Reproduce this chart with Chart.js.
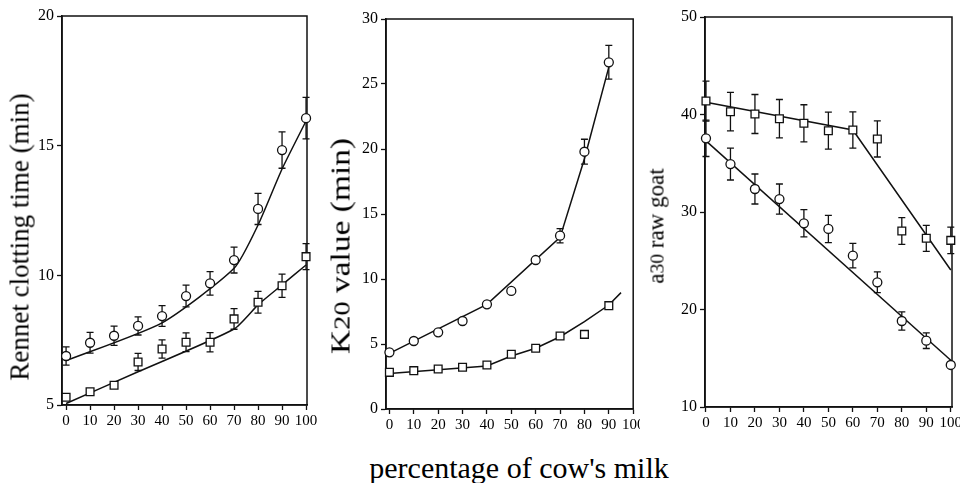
<!DOCTYPE html>
<html><head><meta charset="utf-8">
<script src="https://cdn.jsdelivr.net/npm/chart.js@4/dist/chart.umd.min.js"></script>
<style>
html,body{margin:0;padding:0;background:#fff;}
body{width:960px;height:483px;overflow:hidden;position:relative;font-family:"Liberation Serif","Times New Roman",serif;color:#000}
canvas{position:absolute;top:0}
.yt{position:absolute;white-space:nowrap;line-height:1}
.yt span{font-size:0.85em}
#xtitle{position:absolute;left:519px;top:453px;transform:translateX(-50%);white-space:nowrap;font-size:30px;line-height:30px}
</style></head>
<body>
<canvas id="c1" width="320" height="440" style="left:0px"></canvas>
<canvas id="c2" width="320" height="440" style="left:320px"></canvas>
<canvas id="c3" width="320" height="440" style="left:640px"></canvas>
<div class="yt" style="left:20px;top:237px;font-size:27px;transform:translate(-50%,-50%) rotate(-90deg)">Rennet clotting time (min)</div>
<div class="yt" style="left:341px;top:246px;font-size:27px;transform:translate(-50%,-50%) rotate(-90deg) scaleX(1.24)">K<span>20</span> value (min)</div>
<div class="yt" style="left:656px;top:226px;font-size:23px;transform:translate(-50%,-50%) rotate(-90deg)">a<span>30</span> raw goat</div>
<div id="xtitle">percentage of cow's milk</div>
<script>
// ---- data ----
const pctCow = [0,10,20,30,40,50,60,70,80,90,100];
const pctCowK20 = [0,10,20,30,40,50,60,70,80,90];

// Panel 1: rennet clotting time (min)
const rctCircle    = [6.89,7.40,7.67,8.05,8.43,9.20,9.69,10.59,12.56,14.83,16.06];
const rctCircleErr = [0.35,0.40,0.37,0.35,0.40,0.42,0.45,0.50,0.60,0.70,0.80];
const rctSquare    = [5.30,5.51,5.76,6.66,7.16,7.42,7.42,8.32,8.96,9.60,10.72];
const rctSquareErr = [0,0,0,0.33,0.35,0.36,0.37,0.40,0.42,0.45,0.50];
const rctCircleFitX = [0,40,70,80,90,100];
const rctCircleFitY = [6.71,8.17,10.27,11.94,14.10,15.95];
const rctSquareFitX = [0,30,70,80,90,100];
const rctSquareFitY = [5.06,6.28,7.93,8.86,9.63,10.40];

// Panel 2: K20 value (min)
const k20Circle    = [4.36,5.23,5.90,6.77,8.05,9.08,11.46,13.33,19.79,26.67];
const k20CircleErr = [0,0,0,0,0,0,0,0.55,0.96,1.30];
const k20Square    = [2.82,2.95,3.08,3.21,3.38,4.21,4.67,5.62,5.74,7.95];
const k20SquareErr = [0,0,0,0,0,0,0,0,0,0];
const k20CircleFitX = [0,40,70,80,90];
const k20CircleFitY = [4.28,8.05,13.2,19.25,26.3];
const k20SquareFitX = [0,40,50,60,70,80,90,95];
const k20SquareFitY = [2.74,3.31,4.08,4.67,5.56,6.72,8.0,8.95];

// Panel 3: a30 raw goat
const a30Circle    = [37.56,34.92,32.36,31.33,28.84,28.26,25.52,22.79,18.82,16.80,14.31];
const a30CircleErr = [1.87,1.64,1.54,1.54,1.40,1.40,1.26,1.06,0.94,0.80,0];
const a30Square    = [41.38,40.29,40.05,39.57,39.10,38.34,38.41,37.49,28.05,27.30,27.09];
const a30SquareErr = [2.05,1.97,2.00,1.97,1.90,1.90,1.85,1.85,1.37,1.33,1.35];
const a30CircleFitX = [0,100];
const a30CircleFitY = [37.3,14.8];
const a30SquareFitX = [0,60,100];
const a30SquareFitY = [41.25,38.41,24.05];

// y-axis tick ranges
const yTicks1 = {min:5, max:20, step:5};
const yTicks2 = {min:0, max:30, step:5};
const yTicks3 = {min:10, max:50, step:10};

// ---- rendering ----
const SERIF = '"Liberation Serif","Times New Roman",serif';
Chart.defaults.font.family = SERIF;
Chart.defaults.color = '#000';
const INK = '#111';

const frameAndErrors = {
  id: 'frameAndErrors',
  beforeDatasetsDraw(chart) {
    const {ctx, chartArea: a, scales: {x, y}} = chart;
    ctx.save();
    ctx.strokeStyle = INK;
    ctx.lineWidth = 1.5;
    ctx.strokeRect(a.left, a.top, a.right - a.left, a.bottom - a.top);
    ctx.lineWidth = 1.3;
    chart.data.datasets.forEach(ds => {
      if (!ds.errors) return;
      ds.data.forEach((p, i) => {
        const e = ds.errors[i];
        if (!e) return;
        const px = x.getPixelForValue(p.x);
        const yt = y.getPixelForValue(p.y + e);
        const yb = y.getPixelForValue(p.y - e);
        ctx.beginPath();
        ctx.moveTo(px, yt); ctx.lineTo(px, yb);
        ctx.moveTo(px - 3.5, yt); ctx.lineTo(px + 3.5, yt);
        ctx.moveTo(px - 3.5, yb); ctx.lineTo(px + 3.5, yb);
        ctx.stroke();
      });
    });
    ctx.restore();
  }
};

function pts(xs, ys) { return xs.map((v, i) => ({x: v, y: ys[i]})); }

function makeChart(id, cfg) {
  const markers = (ys, errs, style, r) => ({
    type: 'scatter', data: pts(cfg.x, ys), errors: errs,
    pointStyle: style, pointRadius: r, pointHoverRadius: r,
    pointBackgroundColor: '#fff', pointBorderColor: INK, pointBorderWidth: 1.3,
    showLine: false, clip: false, order: 1
  });
  const fit = (xs, ys, tension) => ({
    type: 'line', data: pts(xs, ys), borderColor: INK, borderWidth: 1.5,
    pointRadius: 0, tension: tension, fill: false, clip: false, order: 2
  });
  new Chart(document.getElementById(id), {
    data: {
      datasets: [
        fit(cfg.cFitX, cfg.cFitY, cfg.tension),
        fit(cfg.sFitX, cfg.sFitY, cfg.tension),
        markers(cfg.circle, cfg.circleErr, 'circle', 4.5),
        markers(cfg.square, cfg.squareErr, 'rect', 5.5)
      ]
    },
    options: {
      responsive: false, animation: false, devicePixelRatio: 1,
      layout: {padding: {left: 0, top: cfg.top, right: cfg.right, bottom: 0}},
      plugins: {legend: {display: false}, tooltip: {enabled: false}},
      scales: {
        x: {
          type: 'linear', min: cfg.xmin, max: cfg.xmax,
          afterFit(s) { s.height = 440 - cfg.bottom; s.paddingLeft = 0; s.paddingRight = 0; },
          ticks: {stepSize: 10, autoSkip: false, includeBounds: false, maxRotation: 0,
                  font: {family: SERIF, size: 15}, color: '#000', padding: 2},
          grid: {display: true, drawOnChartArea: false, drawTicks: true, tickLength: 5,
                 tickColor: INK, tickWidth: 1.3},
          border: {display: true, color: INK, width: 1.6}
        },
        y: {
          type: 'linear', min: cfg.yt.min, max: cfg.yt.max,
          afterFit(s) { s.width = cfg.left; s.paddingTop = 0; s.paddingBottom = 0; },
          ticks: {stepSize: cfg.yt.step, autoSkip: false, includeBounds: false,
                  font: {family: SERIF, size: 16}, color: '#000', padding: 3},
          grid: {display: true, drawOnChartArea: false, drawTicks: true, tickLength: 5,
                 tickColor: INK, tickWidth: 1.3},
          border: {display: true, color: INK, width: 1.6}
        }
      }
    },
    plugins: [frameAndErrors]
  });
}

makeChart('c1', {
  x: pctCow, circle: rctCircle, circleErr: rctCircleErr, square: rctSquare, squareErr: rctSquareErr,
  cFitX: rctCircleFitX, cFitY: rctCircleFitY, sFitX: rctSquareFitX, sFitY: rctSquareFitY,
  tension: 0.2, yt: yTicks1, xmin: -1.7, xmax: 100.4,
  left: 62, right: 13, top: 16, bottom: 405
});
makeChart('c2', {
  x: pctCowK20, circle: k20Circle, circleErr: k20CircleErr, square: k20Square, squareErr: k20SquareErr,
  cFitX: k20CircleFitX, cFitY: k20CircleFitY, sFitX: k20SquareFitX, sFitY: k20SquareFitY,
  tension: 0, yt: yTicks2, xmin: -1.4, xmax: 100,
  left: 66, right: 6, top: 19, bottom: 409
});
makeChart('c3', {
  x: pctCow, circle: a30Circle, circleErr: a30CircleErr, square: a30Square, squareErr: a30SquareErr,
  cFitX: a30CircleFitX, cFitY: a30CircleFitY, sFitX: a30SquareFitX, sFitY: a30SquareFitY,
  tension: 0, yt: yTicks3, xmin: -0.4, xmax: 100.5,
  left: 65, right: 8, top: 17, bottom: 407
});
</script>
</body></html>
